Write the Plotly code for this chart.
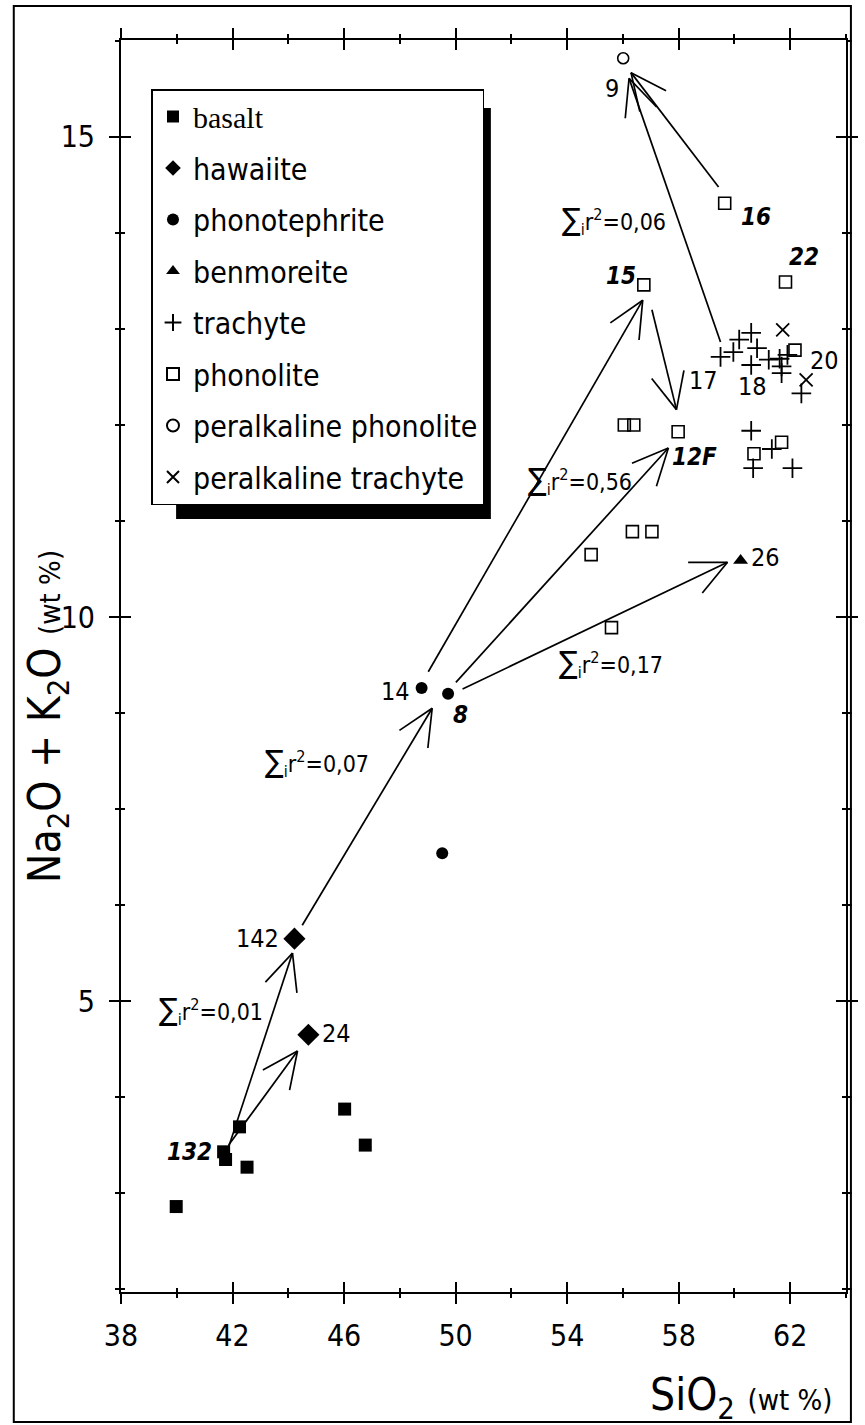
import math
import plotly.graph_objects as go

W, H = 865, 1425
ML, MR, MT, MB = 121, 7, 40, 133
XR = [38, 64]
YR = [2.97, 16.01]
FONT = "DejaVu Sans Condensed, Liberation Sans, sans-serif"

# ---- data ----
basalt_x = [42.25, 41.68, 41.75, 42.52, 46.02, 46.76, 39.98]
basalt_y = [4.69, 4.43, 4.35, 4.27, 4.875, 4.50, 3.86]
hawaiite_x = [44.22, 44.72]
hawaiite_y = [6.65, 5.65]
phonotephrite_x = [48.78, 49.73, 49.52]
phonotephrite_y = [9.26, 9.20, 7.54]
benmoreite_x = [60.22]
benmoreite_y = [10.59]
trachyte_x = [59.50, 59.96, 60.17, 60.60, 60.81, 60.60, 61.23, 61.62, 61.69, 61.69,
              61.90, 62.40, 60.60, 61.34, 60.67, 62.08]
trachyte_y = [12.71, 12.76, 12.89, 12.96, 12.80, 12.625, 12.68, 12.69, 12.61, 12.54,
              12.73, 12.33, 11.94, 11.75, 11.55, 11.55]
phonolite_x = [59.65, 61.83, 56.75, 57.98, 56.05, 56.39, 62.17, 61.69, 60.70,
               54.86, 56.34, 57.04, 55.59]
phonolite_y = [14.31, 13.49, 13.46, 11.93, 12.00, 12.00, 12.78, 11.82, 11.70,
               10.65, 10.89, 10.89, 9.89]
per_phonolite_x = [56.01]
per_phonolite_y = [15.82]
per_trachyte_x = [61.73, 62.57]
per_trachyte_y = [12.99, 12.47]

# arrows: tail -> tip
arrow_x0 = [41.86, 41.86, 44.50, 49.02, 50.01, 50.25, 57.04, 59.50, 59.43]
arrow_y0 = [4.48, 4.50, 6.79, 9.43, 9.32, 9.25, 13.20, 12.865, 14.48]
arrow_x1 = [44.15, 44.33, 49.16, 56.71, 57.63, 59.75, 57.92, 56.22, 56.29]
arrow_y1 = [6.50, 5.48, 9.05, 13.30, 11.76, 10.57, 12.16, 15.61, 15.67]

# sample labels
label_text = ["9", "16", "22", "15", "17", "18", "20", "12F", "26", "14", "8", "142", "24", "132"]
label_bold = [False, True, True, True, False, False, False, True, False, False, True, False, False, True]
label_x = [55.62, 60.77, 62.50, 55.93, 58.90, 60.63, 63.24, 58.55, 61.12, 47.85, 50.19, 42.88, 45.74, 40.45]
label_y = [15.50, 14.17, 13.75, 13.55, 12.46, 12.40, 12.67, 11.67, 10.625, 9.22, 8.98, 6.65, 5.66, 4.43]

# sum of squared residuals labels
sum_vals = ["0,06", "0,56", "0,17", "0,07", "0,01"]
sum_x = [55.68, 54.46, 55.59, 45.03, 41.22]
sum_y = [14.14, 11.43, 9.52, 8.49, 5.91]

x_ticks = [38, 42, 46, 50, 54, 58, 62]
x_minor = [40, 44, 48, 52, 56, 60, 64]
y_tickvals = [15, 10, 6]
y_ticktext = ["15", "10", "5"]
y_minor = [3, 4, 5, 7, 8, 9, 11, 12, 13, 14, 16]

# ---- geometry helpers ----
PW = W - ML - MR
PH = H - MT - MB
sx = PW / (XR[1] - XR[0])
sy = PH / (YR[1] - YR[0])


def to_px(x, y):
    return ML + (x - XR[0]) * sx, MT + (YR[1] - y) * sy


def to_data(px, py):
    return XR[0] + (px - ML) / sx, YR[1] - (py - MT) / sy


fig = go.Figure()

# arrows
ax, ay = [], []
L, ang = 40.0, math.radians(25)
for x0, y0, x1, y1 in zip(arrow_x0, arrow_y0, arrow_x1, arrow_y1):
    ax += [x0, x1, None]
    ay += [y0, y1, None]
    p0 = to_px(x0, y0)
    p1 = to_px(x1, y1)
    dx, dy = p0[0] - p1[0], p0[1] - p1[1]
    n = math.hypot(dx, dy)
    ux, uy = dx / n, dy / n
    for s in (1, -1):
        c, si = math.cos(s * ang), math.sin(s * ang)
        rx, ry = ux * c - uy * si, ux * si + uy * c
        q = to_data(p1[0] + L * rx, p1[1] + L * ry)
        ax += [x1, q[0], None]
        ay += [y1, q[1], None]
fig.add_trace(go.Scatter(x=ax, y=ay, mode="lines", line=dict(color="black", width=1.7),
                         showlegend=False, hoverinfo="skip"))


def add_pts(name, xs, ys, symbol, size, lw=0):
    fig.add_trace(go.Scatter(
        x=xs, y=ys, mode="markers", name=name, legendgroup=name,
        marker=dict(symbol=symbol, size=size, color="black",
                    line=dict(color="black", width=lw))))


add_pts('<span style="font-family:Liberation Serif, serif">basalt</span>', basalt_x, basalt_y, "square", 13)
add_pts("hawaiite", hawaiite_x, hawaiite_y, "diamond", 17)
add_pts("phonotephrite", phonotephrite_x, phonotephrite_y, "circle", 12)
add_pts("benmoreite", benmoreite_x, benmoreite_y, "triangle-up", 13)
add_pts("trachyte", trachyte_x, trachyte_y, "cross-thin", 14, 1.8)
add_pts("phonolite", phonolite_x, phonolite_y, "square-open", 12, 1.6)
add_pts("peralkaline phonolite", per_phonolite_x, per_phonolite_y, "circle-open", 11, 1.6)
add_pts("peralkaline trachyte", per_trachyte_x, per_trachyte_y, "x-thin", 13, 1.8)

# dummy trace for overlay axes (inside ticks)
fig.add_trace(go.Scatter(x=[None], y=[None], xaxis="x2", yaxis="y2", showlegend=False))

annotations = []
for t, b, x, y in zip(label_text, label_bold, label_x, label_y):
    txt = f"<b><i>{t}</i></b>" if b else t
    annotations.append(dict(x=x, y=y, xref="x", yref="y", text=txt, showarrow=False,
                            font=dict(family=FONT, size=25 if not b else 24, color="black"),
                            xanchor="center", yanchor="middle"))
for v, x, y in zip(sum_vals, sum_x, sum_y):
    txt = f'<span style="font-size:31px">∑</span><sub>i</sub>r<sup>2</sup>={v}'
    annotations.append(dict(x=x, y=y, xref="x", yref="y", text=txt, showarrow=False,
                            font=dict(family=FONT, size=23, color="black"),
                            xanchor="center", yanchor="middle"))

# axis titles
annotations.append(dict(
    x=(46 - ML) / PW, y=(H - MB - 717) / PH, xref="paper", yref="paper",
    text='Na<sub>2</sub>O + K<sub>2</sub>O <span style="font-size:29px">(wt %)</span>',
    textangle=-90, showarrow=False, font=dict(family=FONT, size=44, color="black"),
    xanchor="center", yanchor="middle"))
annotations.append(dict(
    x=(752 - ML) / PW, y=(H - MB - 1397) / PH, xref="paper", yref="paper",
    text='SiO<sub>2</sub> <span style="font-size:29px">(wt %)</span>',
    showarrow=False, font=dict(family=FONT, size=44, color="black"),
    xanchor="center", yanchor="middle"))

shapes = [
    # outer frame
    dict(type="rect", xref="paper", yref="paper",
         x0=(12 - ML) / PW, x1=(863 - ML) / PW,
         y0=(H - MB - 1422) / PH, y1=(H - MB - 6) / PH,
         line=dict(color="black", width=2)),
    # legend shadow
    dict(type="rect", xref="paper", yref="paper",
         x0=(177 - ML) / PW, x1=(497 - ML) / PW,
         y0=(H - MB - 519) / PH, y1=(H - MB - 108) / PH,
         fillcolor="black", line=dict(width=0), layer="above"),
]

axis_common = dict(showgrid=False, zeroline=False, tickcolor="black", tickwidth=1.5,
                   ticklen=10, mirror="ticks")

fig.update_layout(
    width=W, height=H, margin=dict(l=ML, r=MR, t=MT, b=MB, pad=0),
    paper_bgcolor="white", plot_bgcolor="white",
    font=dict(family=FONT, color="black"),
    xaxis=dict(range=XR, tickmode="array", tickvals=x_ticks, ticks="outside",
               tickfont=dict(size=30), ticklabelstandoff=6,
               linecolor="black", linewidth=2,
               minor=dict(tickmode="array", tickvals=x_minor, ticklen=4, ticks="outside",
                          tickcolor="black", tickwidth=1.5),
               **axis_common),
    yaxis=dict(range=YR, tickmode="array", tickvals=y_tickvals, ticktext=y_ticktext,
               ticks="outside", tickfont=dict(size=30), ticklabelstandoff=8,
               linecolor="black", linewidth=2,
               minor=dict(tickmode="array", tickvals=y_minor, ticklen=4, ticks="outside",
                          tickcolor="black", tickwidth=1.5),
               **axis_common),
    xaxis2=dict(range=XR, overlaying="x", anchor="y2", tickmode="array", tickvals=x_ticks,
                ticks="inside", showticklabels=False, showline=False,
                minor=dict(tickmode="array", tickvals=x_minor, ticklen=4, ticks="inside",
                           tickcolor="black", tickwidth=1.5),
                **axis_common),
    yaxis2=dict(range=YR, overlaying="y", anchor="x2", tickmode="array", tickvals=y_tickvals,
                ticks="inside", showticklabels=False, showline=False,
                minor=dict(tickmode="array", tickvals=y_minor, ticklen=4, ticks="inside",
                           tickcolor="black", tickwidth=1.5),
                **axis_common),
    legend=dict(x=(152 - ML) / PW, y=(H - MB - 89) / PH, xanchor="left", yanchor="top",
                bgcolor="white", bordercolor="black", borderwidth=1.5,
                tracegroupgap=9.5, itemsizing="constant",
                font=dict(family=FONT, size=30, color="black")),
    annotations=annotations,
    shapes=shapes,
    showlegend=True,
)

fig.write_html("out.html")
